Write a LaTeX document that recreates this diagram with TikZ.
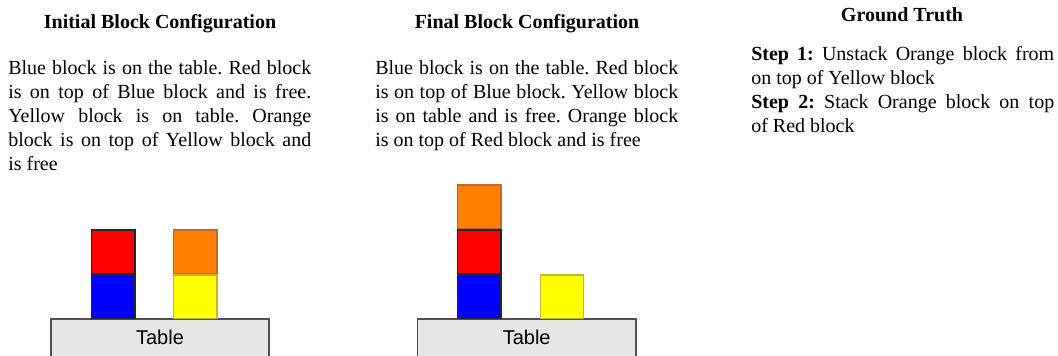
\documentclass[tikz,border=0pt]{standalone}
\usepackage{fontspec}
\setmainfont{Liberation Serif}
\newfontfamily\tablefont{Liberation Sans}
\definecolor{blkred}{HTML}{FF0000}
\definecolor{blkblue}{HTML}{0000FF}
\definecolor{blkyellow}{HTML}{FFFF00}
\definecolor{blkorange}{HTML}{FF8000}
\definecolor{yelborder}{HTML}{C8B428}
\definecolor{orgborder}{HTML}{C86428}
\definecolor{tablefill}{HTML}{E6E6E6}
\definecolor{tableborder}{HTML}{505050}
\frenchspacing
\hyphenpenalty=10000
\tolerance=10000
\begin{document}
\begin{tikzpicture}[x=0.75pt,y=-0.75pt,
  titletext/.style={anchor=base,inner sep=0pt,font=\fontsize{15}{18}\selectfont\bfseries},
  bodytext/.style={anchor=north west,inner sep=0pt,text width=227.25pt,align=justify,
    font=\fontsize{15}{18}\selectfont},
  blockbox/.style={draw,line width=1.1pt,minimum width=32.6pt,minimum height=32.6pt,inner sep=0pt,anchor=south west},
  tabletext/.style={inner sep=0pt,font=\tablefont\fontsize{15}{18}\selectfont}]
\useasboundingbox (0,0) rectangle (1058,355);
\clip (0,0) rectangle (1058,355);
% titles
\node[titletext] (t1) at (160,28) {Initial Block Configuration};
\node[titletext] (t2) at (527,28) {Final Block Configuration};
\node[titletext] (t3) at (902,21) {Ground Truth};
% bodies
\node[bodytext] (b1) at (8,60.3) {Blue block is on the table. Red block\linebreak is on top of Blue block and is free.\linebreak Yellow block is on table. Orange\linebreak block is on top of Yellow block and\linebreak is free};
\node[bodytext] (b2) at (375,60.3) {Blue block is on the table. Red block\linebreak is on top of Blue block. Yellow block\linebreak is on table and is free. Orange block\linebreak is on top of Red block and is free};
\node[bodytext] (b3) at (751,46.5) {\textbf{Step 1:} Unstack Orange block from\linebreak on top of Yellow block\\ \textbf{Step 2:} Stack Orange block on top\linebreak of Red block};
% tables
\draw[fill=tablefill,draw=tableborder,line width=1.1pt] (51,319) rectangle (269,360);
\node[tabletext] (tab1) at (160,337) {Table};
\draw[fill=tablefill,draw=tableborder,line width=1.1pt] (417.3,319) rectangle (636,360);
\node[tabletext] (tab2) at (526.7,337) {Table};
% initial blocks
\node[blockbox,fill=blkblue,draw=black!85] (ib) at (91,319) {};
\node[blockbox,fill=blkred,draw=black!85,anchor=south] (ir) at (ib.north) {};
\node[blockbox,fill=blkyellow,draw=yelborder] (iy) at (173,319) {};
\node[blockbox,fill=blkorange,draw=orgborder,anchor=south] (io) at (iy.north) {};
% final blocks
\node[blockbox,fill=blkblue,draw=black!85] (fb) at (457,319) {};
\node[blockbox,fill=blkred,draw=black!85,anchor=south] (fr) at (fb.north) {};
\node[blockbox,fill=blkorange,draw=orgborder,anchor=south] (fo) at (fr.north) {};
\node[blockbox,fill=blkyellow,draw=yelborder] (fy) at (539.5,319) {};
\end{tikzpicture}
\end{document}
